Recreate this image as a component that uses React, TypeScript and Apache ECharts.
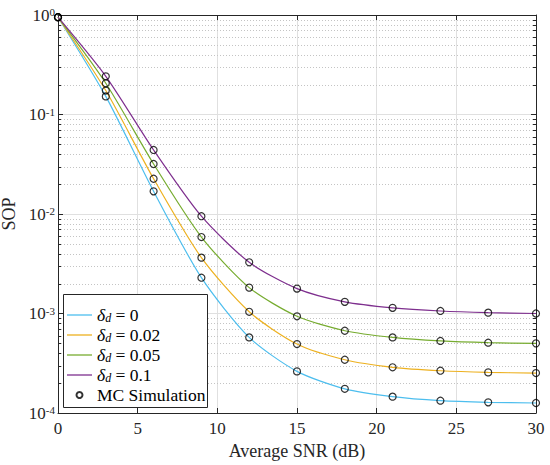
import React, { useEffect, useRef } from 'react';
import * as echarts from 'echarts';

const snr = [0, 3, 6, 9, 12, 15, 18, 21, 24, 27, 30];
const deltas = ['0', '0.02', '0.05', '0.1'];
const sopDelta0 = [0.95, 0.152, 0.0169, 0.00229, 0.000575, 0.000262, 0.000175, 0.000146, 0.000133, 0.000128, 0.000126];
const sopDelta002 = [0.95, 0.174, 0.0226, 0.00364, 0.00104, 0.000493, 0.000343, 0.000288, 0.000266, 0.000256, 0.000252];
const sopDelta005 = [0.95, 0.206, 0.0318, 0.00587, 0.00182, 0.000937, 0.000671, 0.000575, 0.00053, 0.000509, 0.000501];
const sopDelta01 = [0.95, 0.242, 0.044, 0.0095, 0.00327, 0.00178, 0.00131, 0.00114, 0.00106, 0.00102, 0.001];
const seriesValues = [sopDelta0, sopDelta002, sopDelta005, sopDelta01];
const colors = ['#4DBEEE', '#EDB120', '#77AC30', '#7E2F8E'];
const decades = [1e-4, 1e-3, 1e-2, 1e-1];
const minorSteps = [2, 3, 4, 5, 6, 7, 8, 9];
const simName = 'MC Simulation';

const FONT = 'Liberation Serif, Times New Roman, serif';
const INK = '#262626';

export default function App() {
  const ref = useRef<HTMLDivElement>(null);
  useEffect(() => {
    if (!ref.current) return;
    const chart = echarts.init(ref.current, undefined, { renderer: 'svg' });
    const names = deltas.map((d) => `δd = ${d}`);
    const minorValues: number[] = [];
    decades.forEach((d) => minorSteps.forEach((m) => minorValues.push(d * m)));
    const scatterData: number[][] = [];
    seriesValues.forEach((arr) => arr.forEach((v, j) => scatterData.push([snr[j], v])));
    const linePath = 'path://M0,0H25V1.3H0Z';

    const axisCommon = {
      axisLine: { show: true, onZero: false, lineStyle: { color: INK, width: 1 } },
      axisTick: { show: true, inside: true, length: 5, lineStyle: { color: INK, width: 1 } },
    };

    const option: any = {
      animation: false,
      backgroundColor: '#fff',
      textStyle: { fontFamily: FONT },
      grid: { left: 58, top: 15, width: 478, height: 398, containLabel: false, outerBoundsMode: 'none' },
      xAxis: [
        {
          type: 'value', min: 0, max: 30, interval: 5, position: 'bottom',
          ...axisCommon,
          axisLabel: { margin: 7, fontSize: 17, fontFamily: FONT, color: INK },
          splitLine: { show: true, lineStyle: { color: '#e0e0e0', width: 1 } },
          name: 'Average SNR (dB)', nameLocation: 'middle', nameGap: 18,
          nameTextStyle: { fontSize: 18, fontFamily: FONT, color: INK },
        },
        {
          type: 'value', min: 0, max: 30, interval: 5, position: 'top',
          ...axisCommon,
          axisLabel: { show: false }, splitLine: { show: false },
        },
      ],
      yAxis: [
        {
          type: 'log', logBase: 10, min: 1e-4, max: 1, splitNumber: 4, position: 'left',
          ...axisCommon,
          axisLabel: {
            margin: 3,
            formatter: (v: number) => `{b|10}{s|${Math.round(Math.log10(v))}}`,
            rich: {
              b: { fontSize: 17, fontFamily: FONT, color: INK },
              s: { fontSize: 11, fontFamily: FONT, color: INK, verticalAlign: 'top' },
            },
          },
          splitLine: { show: true, lineStyle: { color: '#e0e0e0', width: 1 } },
          name: 'SOP', nameLocation: 'middle', nameGap: 36,
          nameTextStyle: { fontSize: 18, fontFamily: FONT, color: INK },
        },
        {
          type: 'log', logBase: 10, min: 1e-4, max: 1, splitNumber: 4, position: 'right',
          ...axisCommon,
          axisLabel: { show: false }, splitLine: { show: false },
        },
      ],
      legend: {
        data: [
          ...names.map((n) => ({ name: n, icon: linePath })),
          { name: simName, icon: 'circle' },
        ],
        orient: 'vertical', left: 62, top: 301, padding: 5,
        itemWidth: 25, itemHeight: 6, itemGap: 2, selectedMode: false, z: 6,
        formatter: (name: string) => {
          const k = names.indexOf(name);
          if (k < 0) return `{n|${name}}`;
          return `{g|δ}{s|d}{n| = ${deltas[k]}}`;
        },
        textStyle: {
          fontSize: 17.5, fontFamily: FONT, color: '#000',
          rich: {
            g: { fontSize: 17.5, fontFamily: FONT, fontStyle: 'italic', color: '#000' },
            s: { fontSize: 12, fontFamily: FONT, fontStyle: 'italic', color: '#000', verticalAlign: 'bottom' },
            n: { fontSize: 17.5, fontFamily: FONT, color: '#000' },
          },
        },
      },
      graphic: {
        elements: [
          {
            type: 'rect', z: 5, silent: true,
            shape: { x: 63.5, y: 294.5, width: 144, height: 113 },
            style: { fill: '#fff', stroke: INK, lineWidth: 1 },
          },
        ],
      },
      series: [
        {
          type: 'custom', coordinateSystem: 'cartesian2d', silent: true, z: 1,
          data: minorValues.map((v) => [0, v]),
          encode: { x: 0, y: 1 },
          renderItem: (params: any, api: any) => {
            const cs = params.coordSys;
            const y = Math.round(api.coord([0, api.value(1)])[1]) + 0.5;
            const x0 = cs.x;
            const x1 = cs.x + cs.width;
            return {
              type: 'group',
              children: [
                { type: 'line', shape: { x1: x0, y1: y, x2: x1, y2: y }, style: { stroke: '#c4c4c4', lineWidth: 1, lineDash: [1, 2] } },
                { type: 'line', shape: { x1: x0, y1: y, x2: x0 + 3, y2: y }, style: { stroke: INK, lineWidth: 1 } },
                { type: 'line', shape: { x1: x1 - 3, y1: y, x2: x1, y2: y }, style: { stroke: INK, lineWidth: 1 } },
              ],
            };
          },
        },
        ...seriesValues.map((arr, i) => ({
          type: 'line', name: names[i], z: 2,
          data: arr.map((v, j) => [snr[j], v]),
          symbol: 'none', smooth: 0.25,
          lineStyle: { color: colors[i], width: 1.2 },
          itemStyle: { color: colors[i] },
        })),
        {
          type: 'scatter', name: simName, z: 3,
          data: scatterData, symbol: 'circle', symbolSize: 7,
          itemStyle: { color: 'rgba(0,0,0,0)', borderColor: '#000', borderWidth: 1.2 },
        },
      ],
    };
    chart.setOption(option);
    return () => chart.dispose();
  }, []);
  return <div ref={ref} style={{ position: 'fixed', left: 0, top: 0, width: 550, height: 465, background: '#fff' }} />;
}
